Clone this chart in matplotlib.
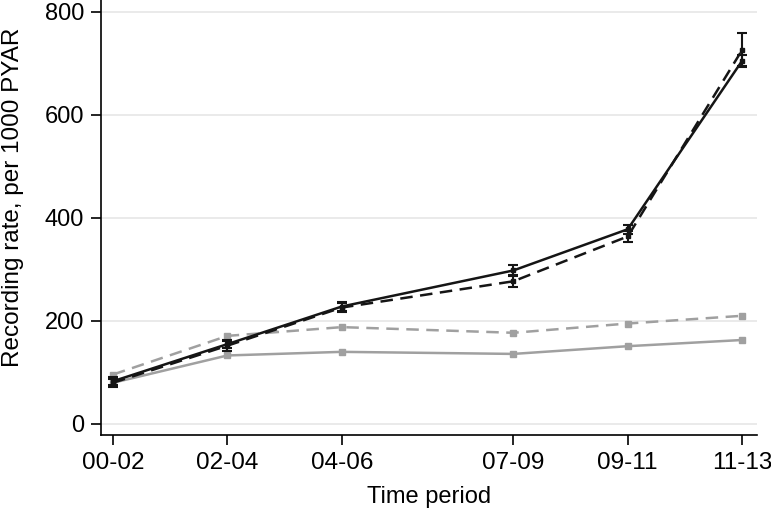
import matplotlib
matplotlib.use("Agg")
import matplotlib.pyplot as plt

periods = ["00-02", "02-04", "04-06", "07-09", "09-11", "11-13"]
xpos = [0, 2, 4, 7, 9, 11]

black_solid = [83, 155, 228, 298, 378, 705]
black_solid_err = [8, 8, 8, 10, 9, 12]
black_dashed = [80, 152, 226, 277, 364, 726]
black_dashed_err = [8, 10, 8, 12, 11, 32]
grey_dashed = [96, 171, 188, 177, 195, 210]
grey_solid = [80, 133, 140, 136, 151, 163]

plt.rcParams['font.family'] = ['Liberation Sans', 'DejaVu Sans']
fig = plt.figure(figsize=(7.71, 5.14), dpi=100)
ax = fig.add_axes([101/771, 79/514, (757-101)/771, 435/514])

grey = '#a0a0a0'
ax.plot(xpos, grey_solid, '-', color=grey, lw=1.8, marker='s', ms=4, zorder=2)
ax.plot(xpos, grey_dashed, '--', color=grey, lw=1.8, marker='s', ms=4, dashes=(5, 3), zorder=2)
ax.errorbar(xpos, black_solid, yerr=black_solid_err, fmt='-', color='#151515', lw=1.8,
            marker='s', ms=3.5, capsize=3.5, elinewidth=1.5, capthick=1.5, zorder=3)
ax.errorbar(xpos, black_dashed, yerr=black_dashed_err, fmt='--', color='#151515', lw=1.8,
            marker='s', ms=3.5, capsize=3.5, elinewidth=1.5, capthick=1.5, dashes=(5, 3), zorder=3)

ax.set_xlim(-0.21, 11.26)
ax.set_ylim(-21.4, 823)
ax.set_yticks([0, 200, 400, 600, 800])
ax.set_xticks(xpos)
ax.set_xticklabels(periods)
ax.yaxis.grid(True, color='#e6e6e6', lw=1.2)
ax.set_axisbelow(True)
for s in ['top', 'right']:
    ax.spines[s].set_visible(False)
for s in ['left', 'bottom']:
    ax.spines[s].set_linewidth(1.2)
ax.tick_params(direction='out', length=7, width=1.2, labelsize=17, pad=5)
ax.tick_params(axis='x', labelsize=17.5)
ax.set_xlabel('Time period', fontsize=17, labelpad=9)
ax.set_ylabel('Recording rate, per 1000 PYAR', fontsize=17.5)
ax.yaxis.set_label_coords(-0.117, 0.547)

fig.savefig('out.png', dpi=100)
